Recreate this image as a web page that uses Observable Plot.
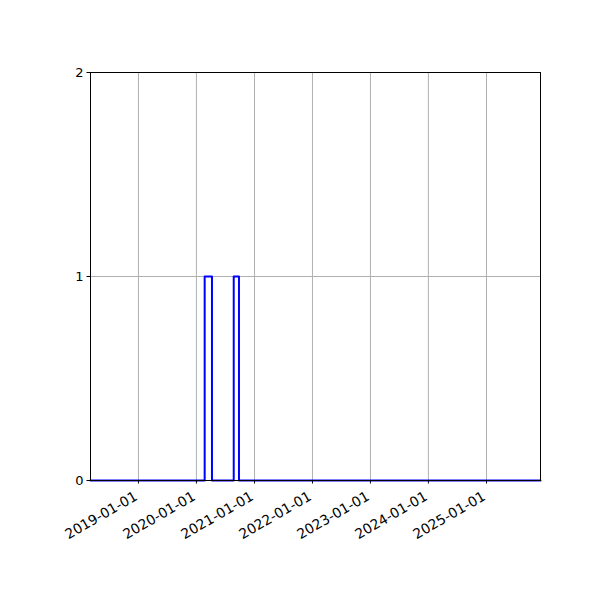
<!DOCTYPE html>
<html>
<head>
<meta charset="utf-8">
<script src="https://cdn.jsdelivr.net/npm/d3@7"></script>
<script src="https://cdn.jsdelivr.net/npm/@observablehq/plot@0.6"></script>
<style>
  html, body { margin: 0; padding: 0; background: #fff; }
  #chart { width: 600px; height: 600px; }
</style>
</head>
<body>
<div id="chart"></div>
<script>
// Step series (value holds from each date until the next)
const stepDates = ["2018-03-05", "2020-02-22", "2020-04-08", "2020-08-23", "2020-09-25", "2025-12-07"];
const stepValues = [0, 1, 0, 1, 0, 0];
const xTickLabels = ["2019-01-01", "2020-01-01", "2021-01-01", "2022-01-01", "2023-01-01", "2024-01-01", "2025-01-01"];
const yTicks = [0, 1, 2];

const parse = d3.utcParse("%Y-%m-%d");
const series = stepDates.map((d, i) => ({date: parse(d), value: stepValues[i]}));
const xTicks = xTickLabels.map(parse);

const chart = Plot.plot({
  width: 600,
  height: 600,
  marginLeft: 90,
  marginRight: 60,
  marginTop: 72,
  marginBottom: 120,
  style: {fontFamily: "DejaVu Sans", fontSize: "13px", background: "#fff", color: "#000"},
  x: {type: "utc", domain: [parse(stepDates[0]), parse(stepDates[stepDates.length - 1])]},
  y: {domain: [0, 2]},
  marks: [
    Plot.gridX(xTicks, {stroke: "#b0b0b0", strokeOpacity: 1, strokeWidth: 1}),
    Plot.gridY([1], {stroke: "#b0b0b0", strokeOpacity: 1, strokeWidth: 1}),
    Plot.line(series, {x: "date", y: "value", curve: "step-after", stroke: "#0000ff", strokeWidth: 2}),
    Plot.frame({stroke: "#000", strokeWidth: 1}),
    Plot.axisY(yTicks, {tickSize: 3.5, tickPadding: 3.5, tickFormat: d3.format("d"), label: null, fontSize: 13}),
    Plot.axisX(xTicks, {tickSize: 3.5, tickFormat: () => "", label: null}),
    Plot.text(xTicks, {
      x: d => d, y: () => 0, text: d => d3.utcFormat("%Y-%m-%d")(d),
      rotate: -30, textAnchor: "end", lineAnchor: "top", dy: 10, dx: -5,
      fontSize: 13.9, fill: "#000"
    })
  ]
});
document.getElementById("chart").appendChild(chart);
</script>
</body>
</html>
